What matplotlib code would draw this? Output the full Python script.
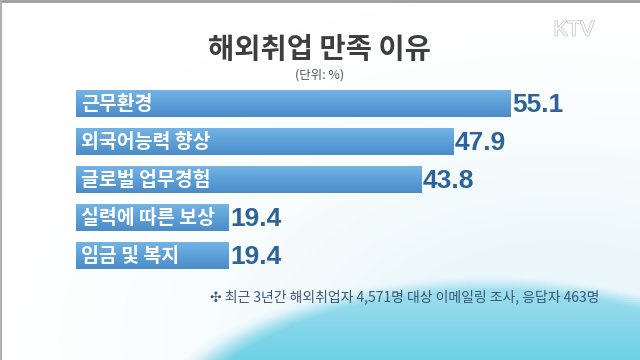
import matplotlib
matplotlib.use("Agg")
import matplotlib.pyplot as plt
import matplotlib.patheffects as pe
import numpy as np
from matplotlib.colors import LinearSegmentedColormap

plt.rcParams["font.family"] = ["Noto Sans CJK KR", "DejaVu Sans"]

# data
reasons = ["근무환경", "외국어능력 향상", "글로벌 업무경험", "실력에 따른 보상", "임금 및 복지"]
shares = [55.1, 47.9, 43.8, 19.4, 19.4]
value_labels = ["55.1", "47.9", "43.8", "19.4", "19.4"]

title = "해외취업 만족 이유"
unit_note = "(단위: %)"
footnote = "✣ 최근 3년간 해외취업자 4,571명 대상 이메일링 조사, 응답자 463명"

W, H = 640, 360
fig = plt.figure(figsize=(W / 100, H / 100), dpi=100)

# background: white with a soft cyan dome rising from the bottom right
bg = fig.add_axes([0, 0, 1, 1])
py, px = np.mgrid[0:H:180j, 0:W:320j]
d = np.sqrt(((px - 490) / 340) ** 2 + ((py - 440) / 165) ** 2)
dome = np.clip((1.04 - d) / 0.14, 0, 1) * (0.72 + 0.28 * np.clip((py - 290) / 70, 0, 1))
glow = np.clip((1.6 - np.sqrt(((px - 560) / 420) ** 2 + ((py - 340) / 240) ** 2)) / 1.2, 0, 1) ** 2
tint = np.clip(np.maximum(dome, 0.24 * glow), 0, 1)
bg_cmap = LinearSegmentedColormap.from_list("bg", ["#ffffff", "#e4f5fa", "#a6e0ef", "#6fd1e6"])
bg.imshow(tint, cmap=bg_cmap, extent=[0, 1, 0, 1], aspect="auto", origin="upper", vmin=0, vmax=1)
bg.axhline(0.997, color="#9a9a9a", lw=2)
bg.axvline(0.001, color="#b0b0b0", lw=1.5)
bg.set_xlim(0, 1); bg.set_ylim(0, 1)
bg.axis("off")

fig.text(320 / W, 1 - 50 / H, title, ha="center", va="center", fontsize=20.5,
         fontweight="bold", color="#3e3e3e")
fig.text(320 / W, 1 - 75 / H, unit_note, ha="center", va="center", fontsize=9, color="#555555")
fig.text(574 / W, 1 - 30 / H, "KTV", ha="center", va="center", fontsize=15, color="white",
         fontfamily=["Liberation Sans", "DejaVu Sans"],
         path_effects=[pe.withStroke(linewidth=1.2, foreground="#c8c8c8")])
fig.text(210 / W, 1 - 297 / H, footnote, ha="left", va="center", fontsize=10, color="#3a5878")

# bars
left_px, top_px, bottom_px = 76, 84.5, 274.5
ax = fig.add_axes([left_px / W, 1 - bottom_px / H, (W - left_px) / W, (bottom_px - top_px) / H])
ax.set_xlim(0, (W - left_px) / 7.88)
ax.set_ylim(len(reasons) - 0.5, -0.5)
ax.axis("off")
ax.patch.set_alpha(0)

y = np.arange(len(reasons))
bars = ax.barh(y, shares, height=0.71, color="#5b9bd5", edgecolor="none")
grad = np.linspace(0, 1, 64).reshape(-1, 1)
bar_cmap = LinearSegmentedColormap.from_list("bar", ["#74b3e4", "#5da0d8", "#4c8cc9"])
for bar in bars:
    x0, y0 = bar.get_x(), bar.get_y()
    w, h = bar.get_width(), bar.get_height()
    im = ax.imshow(grad, cmap=bar_cmap, extent=[x0, x0 + w, y0 + h, y0], aspect="auto",
                   origin="upper", zorder=2)
    im.set_clip_path(bar)

for yi, name, val, lab in zip(y, reasons, shares, value_labels):
    ax.text(0.6, yi + 0.02, name, ha="left", va="center", fontsize=14, fontweight="bold",
            color="white", zorder=3)
    ax.text(val + 0.2, yi + 0.05, lab, ha="left", va="center", fontsize=19, fontweight="bold",
            color="#2d6399", zorder=3, fontfamily=["Liberation Sans", "DejaVu Sans"])

fig.savefig("out.png", dpi=100)
